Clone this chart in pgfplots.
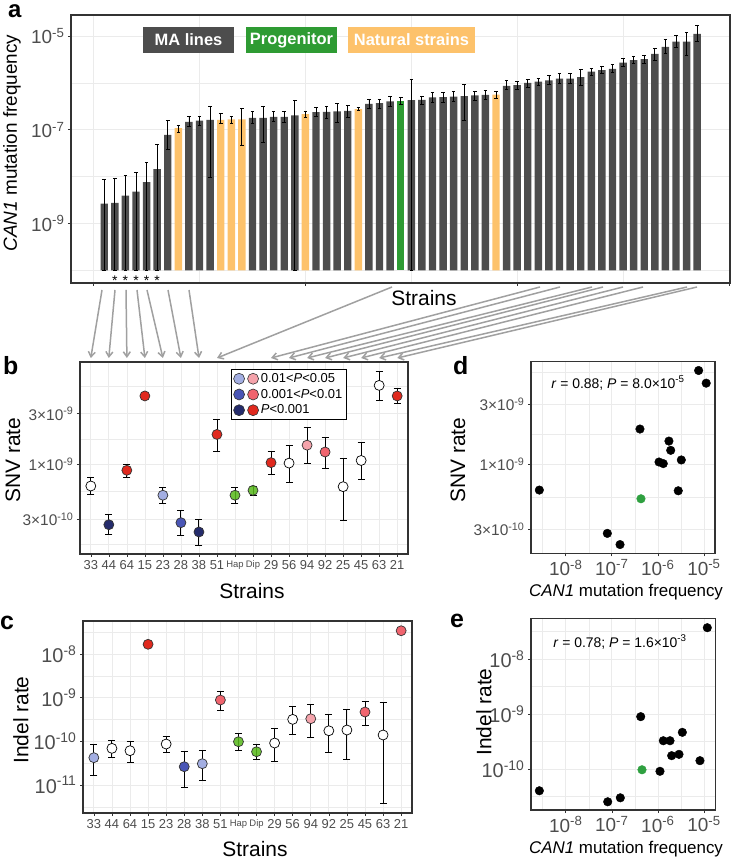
\documentclass[border=0pt]{standalone}
\usepackage{pgfplots}
\pgfplotsset{compat=1.18}
\usepackage{pgfplotstable}
\usepackage{fontspec}
\setmainfont{Liberation Sans}
\usetikzlibrary{arrows.meta}

\definecolor{magray}{HTML}{4D4D4D}
\definecolor{progreen}{HTML}{2E9B33}
\definecolor{natorange}{HTML}{FDC26B}
\definecolor{lblue}{HTML}{A3AEE2}
\definecolor{mblue}{HTML}{4A56B6}
\definecolor{navy}{HTML}{252C6C}
\definecolor{lpink}{HTML}{F5A3AB}
\definecolor{salmon}{HTML}{F0646E}
\definecolor{redd}{HTML}{E0291E}
\definecolor{ptgreen}{HTML}{57B91A}
\definecolor{dgreen}{HTML}{2FA040}
\definecolor{gridc}{HTML}{EBEBEB}
\definecolor{framec}{HTML}{333333}
\definecolor{tickc}{HTML}{4D4D4D}
\definecolor{arrowc}{HTML}{A0A0A0}

\newcommand{\fs}[1]{\fontsize{#1}{#1}\selectfont}
\newcommand{\sx}[1]{\textsuperscript{#1}}

% panel a: CAN1 mutation frequency per strain (bars at 1..57)
\pgfplotstableread{
pos v hi lo
1 2.65e-9 8.9e-9 1e-10
2 2.74e-9 9.0e-9 1e-10
3 3.92e-9 1.08e-8 1e-10
4 4.78e-9 1.25e-8 1e-10
5 7.67e-9 2.05e-8 1e-10
6 1.45e-8 4.79e-8 1e-10
7 7.82e-8 1.61e-7 3.8e-8
9 1.48e-7 1.95e-7 1.18e-7
10 1.56e-7 1.95e-7 1.24e-7
11 1.63e-7 3.19e-7 9.6e-9
15 1.80e-7 2.50e-7 1.34e-7
16 1.80e-7 3.09e-7 5.46e-8
17 1.89e-7 2.46e-7 1.51e-7
18 1.89e-7 2.50e-7 1.43e-7
19 2.02e-7 4.28e-7 1e-10
21 2.38e-7 2.99e-7 1.92e-7
22 2.42e-7 3.14e-7 1.75e-7
23 2.46e-7 3.58e-7 1.43e-7
24 2.54e-7 3.25e-7 1.86e-7
26 3.58e-7 4.51e-7 2.85e-7
27 3.70e-7 4.51e-7 2.90e-7
28 4.02e-7 5.05e-7 3.14e-7
30 4.28e-7 1.16e-6 1e-10
31 4.35e-7 5.22e-7 3.52e-7
32 4.89e-7 6.15e-7 3.83e-7
33 4.97e-7 6.25e-7 3.83e-7
34 5.13e-7 6.56e-7 4.02e-7
35 5.22e-7 9.4e-7 1.58e-7
36 5.40e-7 6.67e-7 4.28e-7
37 5.57e-7 7.0e-7 4.35e-7
39 8.67e-7 1.11e-6 7.13e-7
40 8.95e-7 1.07e-6 7.36e-7
41 1.00e-6 1.20e-6 8.11e-7
42 1.07e-6 1.26e-6 8.95e-7
43 1.13e-6 1.42e-6 9.1e-7
44 1.24e-6 1.56e-6 9.9e-7
45 1.24e-6 1.62e-6 9.9e-7
46 1.33e-6 1.90e-6 8.67e-7
47 1.75e-6 2.06e-6 1.46e-6
48 1.87e-6 2.28e-6 1.56e-6
49 2.00e-6 2.47e-6 1.67e-6
50 2.72e-6 3.31e-6 2.24e-6
51 3.05e-6 3.65e-6 2.55e-6
52 3.21e-6 3.90e-6 2.64e-6
53 4.17e-6 5.51e-6 3.05e-6
54 5.88e-6 8.55e-6 4.31e-6
55 7.64e-6 1.01e-5 5.78e-6
56 7.64e-6 1.21e-5 3.78e-6
57 1.11e-5 1.65e-5 7.64e-6
}\tabMA
\pgfplotstableread{
pos v hi lo
8 1.09e-7 1.26e-7 8.9e-8
12 1.63e-7 2.19e-7 1.34e-7
13 1.66e-7 1.92e-7 1.39e-7
14 1.66e-7 2.90e-7 4.64e-8
20 2.16e-7 2.46e-7 1.86e-7
25 2.76e-7 2.99e-7 2.54e-7
38 5.66e-7 6.67e-7 4.73e-7
}\tabNat
\pgfplotstableread{
pos v hi lo
29 4.15e-7 4.97e-7 3.52e-7
}\tabPro

% panel b: SNV rate
\pgfplotstableread{
pos v hi lo c
1 6.18e-10 7.5e-10 5.12e-10 o
2 2.65e-10 3.33e-10 2.12e-10 nv
3 8.71e-10 1.0e-9 7.5e-10 rd
4 4.43e-9 4.75e-9 4.11e-9 rd
5 5.05e-10 5.96e-10 4.23e-10 lb
6 2.77e-10 3.63e-10 2.09e-10 mb
7 2.26e-10 2.96e-10 1.69e-10 nv
8 1.91e-9 2.67e-9 1.33e-9 rd
9 5.05e-10 5.96e-10 4.2e-10 gr
10 5.62e-10 6.18e-10 5.08e-10 gr
11 1.03e-9 1.31e-9 8.04e-10 rd
12 1.02e-9 1.49e-9 6.61e-10 o
13 1.51e-9 2.23e-9 1.02e-9 pk
14 1.30e-9 1.80e-9 9.16e-10 sm
15 6.09e-10 1.13e-9 2.94e-10 o
16 1.08e-9 1.59e-9 7.1e-10 o
17 5.58e-9 7.64e-9 4.03e-9 o
18 4.43e-9 5.19e-9 3.74e-9 rd
}\tabB

% panel c: indel rate
\pgfplotstableread{
pos v hi lo c
1 4.23e-11 8.55e-11 1.69e-11 lb
2 6.92e-11 1.07e-10 4.31e-11 o
3 6.12e-11 1.0e-10 3.37e-11 o
4 1.67e-8 1.78e-8 1.57e-8 rd
5 8.69e-11 1.28e-10 5.49e-11 o
6 2.63e-11 6.01e-11 8.67e-12 mb
7 3.08e-11 6.34e-11 1.26e-11 lb
8 8.85e-10 1.40e-9 5.03e-10 sm
9 9.82e-11 1.50e-10 6.34e-11 gr
10 5.79e-11 8.39e-11 3.87e-11 gr
11 9.16e-11 1.95e-10 3.42e-11 o
12 3.19e-10 6.34e-10 1.45e-10 o
13 3.30e-10 7.03e-10 1.24e-10 pk
14 1.75e-10 4.07e-10 5.7e-11 o
15 1.82e-10 5.31e-10 3.94e-11 o
16 4.70e-10 8.09e-10 2.33e-10 sm
17 1.40e-10 7.84e-10 3.8e-12 o
18 3.41e-8 3.63e-8 3.2e-8 sm
}\tabC

\pgfplotsset{
  gg/.style={
    scale only axis, anchor=south west,
    axis line style={draw=framec, line width=1.1bp},
    grid=both,
    major grid style={draw=gridc, line width=0.7bp},
    minor grid style={draw=gridc, line width=0.35bp},
    tick align=outside, tick pos=left,
    major tick length=3bp, minor tick length=0pt,
    tick style={draw=framec, line width=0.6bp},
    tick label style={text=tickc},
  },
  ebar/.style={
    error bars/.cd, y dir=both, y explicit,
    error bar style={draw=black, line width=0.9bp},
    error mark options={rotate=90, draw=black, mark size=#1, line width=0.9bp},
  },
  pts/.style={
    scatter, only marks, mark=*, mark size=5bp,
    scatter src=explicit symbolic,
    mark options={line width=0.7bp},
    scatter/classes={
      o={draw=black, fill=white}, lb={draw=framec, fill=lblue},
      mb={draw=framec, fill=mblue}, nv={draw=framec, fill=navy},
      pk={draw=framec, fill=lpink}, sm={draw=framec, fill=salmon},
      rd={draw=framec, fill=redd}, gr={draw=framec, fill=ptgreen, fill opacity=0.85}},
  },
  /pgfplots/table/lg/.style={y expr=ln(\thisrow{v})/ln(10)},
  /pgfplots/table/lgerr/.style={
    y error plus expr=ln(\thisrow{hi})/ln(10)-ln(\thisrow{v})/ln(10),
    y error minus expr=ln(\thisrow{v})/ln(10)-ln(\thisrow{lo})/ln(10)},
}

\begin{document}
\begin{tikzpicture}
\useasboundingbox (0,0) rectangle (732bp,861bp);

% ---------------- a ----------------
\begin{axis}[gg, at={(71bp,578bp)}, width=659bp, height=268bp,
  xmin=-2.14, xmax=60.1, ymin=-0.27, ymax=5.45,
  xtick={0,20,40,60}, minor xtick={10,30,50}, xticklabels={},
  ytick={1,3,5}, minor ytick={0,2,4},
  yticklabels={10\sx{-9},10\sx{-7},10\sx{-5}},
  yticklabel style={font=\fs{19}},
  ybar, bar width=0.7, bar shift=0pt]
\addplot[fill=magray, draw=none, bar shift=0pt, ebar=1.8bp]
  table[x=pos, y expr=ln(\thisrow{v})/ln(10)+10, lgerr] {\tabMA};
\addplot[fill=natorange, draw=none, bar shift=0pt, ebar=1.8bp]
  table[x=pos, y expr=ln(\thisrow{v})/ln(10)+10, lgerr] {\tabNat};
\addplot[fill=progreen, draw=none, bar shift=0pt, ebar=1.8bp]
  table[x=pos, y expr=ln(\thisrow{v})/ln(10)+10, lgerr] {\tabPro};
\node[font=\fs{14}] at (axis cs:2,-0.22) {*};
\node[font=\fs{14}] at (axis cs:3,-0.22) {*};
\node[font=\fs{14}] at (axis cs:4,-0.22) {*};
\node[font=\fs{14}] at (axis cs:5,-0.22) {*};
\node[font=\fs{14}] at (axis cs:6,-0.22) {*};
\end{axis}

\node[fill=magray, text=white, font=\bfseries\fs{16.5}, minimum width=91bp, minimum height=26bp, inner sep=0pt] at (188.5bp,821bp) {MA lines};
\node[fill=progreen, text=white, font=\bfseries\fs{16.5}, minimum width=91bp, minimum height=26bp, inner sep=0pt] at (291.5bp,821bp) {Progenitor};
\node[fill=natorange, text=white, font=\bfseries\fs{16.5}, minimum width=127bp, minimum height=26bp, inner sep=0pt] at (411.5bp,821bp) {Natural strains};

% ---------------- b ----------------
\begin{axis}[gg, at={(80bp,307bp)}, width=328bp, height=192bp,
  xmin=0.4, xmax=18.6, ymin=-9.855, ymax=-8.031,
  xtick={1,...,18},
  xticklabels={33,44,64,15,23,28,38,51,{\fs{9.5}Hap},{\fs{9.5}Dip},29,56,94,92,25,45,63,21},
  xticklabel style={font=\fs{13}},
  ytick={-9.5229,-9,-8.5229}, minor ytick={-9.7615,-9.2615,-8.7615,-8.2615},
  yticklabels={3×10\sx{-10},1×10\sx{-9},3×10\sx{-9}},
  yticklabel style={font=\fs{15.5}},
  legend style={at={(0.46,0.963)}, anchor=north west, draw=black, line width=0.8bp,
    fill=white, font=\fs{13}, inner xsep=2bp, inner ysep=2bp, row sep=1.2bp},
  legend cell align=left]
\addlegendimage{legend image code/.code={
  \draw[fill=lblue, draw=framec, line width=0.6bp] (0bp,0bp) circle (5.5bp);
  \draw[fill=lpink, draw=framec, line width=0.6bp] (14bp,0bp) circle (5.5bp);}}
\addlegendentry{0.01<\textit{P}<0.05}
\addlegendimage{legend image code/.code={
  \draw[fill=mblue, draw=framec, line width=0.6bp] (0bp,0bp) circle (5.5bp);
  \draw[fill=salmon, draw=framec, line width=0.6bp] (14bp,0bp) circle (5.5bp);}}
\addlegendentry{0.001<\textit{P}<0.01}
\addlegendimage{legend image code/.code={
  \draw[fill=navy, draw=framec, line width=0.6bp] (0bp,0bp) circle (5.5bp);
  \draw[fill=redd, draw=framec, line width=0.6bp] (14bp,0bp) circle (5.5bp);}}
\addlegendentry{\textit{P}<0.001}
\addplot[forget plot, draw=none, mark=none, ebar=3.5bp] table[x=pos, lg, lgerr] {\tabB};
\addplot[forget plot, pts] table[x=pos, lg, meta=c] {\tabB};
\end{axis}

% ---------------- c ----------------
\begin{axis}[gg, at={(83bp,48bp)}, width=329bp, height=192bp,
  xmin=0.4, xmax=18.6, ymin=-11.64, ymax=-7.244,
  xtick={1,...,18},
  xticklabels={33,44,64,15,23,28,38,51,{\fs{9.5}Hap},{\fs{9.5}Dip},29,56,94,92,25,45,63,21},
  xticklabel style={font=\fs{13}},
  ytick={-11,-10,-9,-8}, minor ytick={-11.5,-10.5,-9.5,-8.5,-7.5},
  yticklabels={10\sx{-11},10\sx{-10},10\sx{-9},10\sx{-8}},
  yticklabel style={font=\fs{20}}]
\addplot[draw=none, mark=none, ebar=3.5bp] table[x=pos, lg, lgerr] {\tabC};
\addplot[pts] table[x=pos, lg, meta=c] {\tabC};
\end{axis}

% ---------------- d ----------------
\begin{axis}[gg, at={(531bp,307.7bp)}, width=184bp, height=191.6bp,
  xmode=log, ymode=log,
  xmin=1.766e-9, xmax=1.738e-5, ymin=1.932e-10, ymax=6.61e-9,
  xtick={1e-8,1e-7,1e-6,1e-5}, minor xtick={3.1623e-9,3.1623e-8,3.1623e-7,3.1623e-6},
  xticklabels={10\sx{-8},10\sx{-7},10\sx{-6},10\sx{-5}},
  xticklabel style={font=\fs{19}},
  ytick={3e-10,1e-9,3e-9}, minor ytick={5.477e-10,1.732e-9,5.477e-9},
  yticklabels={3×10\sx{-10},1×10\sx{-9},3×10\sx{-9}},
  yticklabel style={font=\fs{15.5}}]
\addplot[only marks, mark=*, mark size=4.3bp, black] coordinates {
  (2.68e-9,6.2e-10) (8.0e-8,2.79e-10) (1.51e-7,2.27e-10) (4.09e-7,1.91e-9)
  (1.06e-6,1.04e-9) (1.31e-6,1.01e-9) (1.74e-6,1.53e-9) (1.9e-6,1.29e-9)
  (3.23e-6,1.08e-9) (2.77e-6,6.12e-10) (7.67e-6,5.62e-9) (1.12e-5,4.45e-9)};
\addplot[only marks, mark=*, mark size=4.3bp, dgreen] coordinates {(4.3e-7,5.28e-10)};
\end{axis}

% ---------------- e ----------------
\begin{axis}[gg, at={(531bp,51bp)}, width=184.7bp, height=191.7bp,
  xmode=log, ymode=log,
  xmin=1.766e-9, xmax=1.795e-5, ymin=1.8e-11, ymax=5.5e-8,
  xtick={1e-8,1e-7,1e-6,1e-5}, minor xtick={3.1623e-9,3.1623e-8,3.1623e-7,3.1623e-6},
  xticklabels={10\sx{-8},10\sx{-7},10\sx{-6},10\sx{-5}},
  xticklabel style={font=\fs{19}},
  ytick={1e-10,1e-9,1e-8}, minor ytick={3.1623e-11,3.1623e-10,3.1623e-9,3.1623e-8},
  yticklabels={10\sx{-10},10\sx{-9},10\sx{-8}},
  yticklabel style={font=\fs{20}}]
\addplot[only marks, mark=*, mark size=4.3bp, black] coordinates {
  (2.68e-9,4.03e-11) (8.15e-8,2.54e-11) (1.53e-7,3.0e-11) (4.24e-7,8.96e-10)
  (1.11e-6,9.1e-11) (1.31e-6,3.27e-10) (1.83e-6,3.27e-10) (1.99e-6,1.75e-10)
  (2.87e-6,1.85e-10) (3.39e-6,4.65e-10) (8.18e-6,1.42e-10) (1.18e-5,3.71e-8)};
\addplot[only marks, mark=*, mark size=4.3bp, dgreen] coordinates {(4.52e-7,9.7e-11)};
\end{axis}

% arrows from panel a to panel b
\begin{scope}[draw=arrowc, line width=1.5bp, -{Straight Barb[length=5bp,width=7bp]}]
\draw (102bp,571bp) -- (90.8bp,503bp);
\draw (115bp,571bp) -- (108.8bp,503bp);
\draw (126bp,571bp) -- (126.9bp,503bp);
\draw (137bp,571bp) -- (144.9bp,503bp);
\draw (147bp,571bp) -- (162.9bp,503bp);
\draw (168bp,571bp) -- (180.9bp,503bp);
\draw (189bp,571bp) -- (199bp,503bp);
\draw (392bp,574bp) -- (217bp,503bp);
\draw (540bp,574bp) -- (271bp,503bp);
\draw (560bp,574bp) -- (289bp,503bp);
\draw (592bp,574bp) -- (307.1bp,503bp);
\draw (603bp,574bp) -- (325.1bp,503bp);
\draw (623bp,574bp) -- (343.2bp,503bp);
\draw (643bp,574bp) -- (361.2bp,503bp);
\draw (687bp,574bp) -- (379.2bp,503bp);
\draw (697bp,574bp) -- (397.3bp,503bp);
\end{scope}

% labels
\begin{scope}[every node/.style={inner sep=0pt}]
\node[font=\bfseries\fs{24}, anchor=base west] at (8bp,843bp) {a};
\node[font=\bfseries\fs{25}, anchor=base west] at (3bp,486bp) {b};
\node[font=\bfseries\fs{25}, anchor=base west] at (0bp,231bp) {c};
\node[font=\bfseries\fs{25}, anchor=base west] at (453bp,486bp) {d};
\node[font=\bfseries\fs{25}, anchor=base west] at (450bp,233bp) {e};
\node[rotate=90, font=\fs{19}] at (12bp,718bp) {\textit{CAN1} mutation frequency};
\node[font=\fs{21}] at (424bp,563bp) {Strains};
\node[rotate=90, font=\fs{21}] at (13bp,401bp) {SNV rate};
\node[font=\fs{21}] at (252bp,270bp) {Strains};
\node[rotate=90, font=\fs{21}] at (21bp,141bp) {Indel rate};
\node[font=\fs{21}] at (255bp,12bp) {Strains};
\node[rotate=90, font=\fs{21}] at (458bp,401bp) {SNV rate};
\node[font=\fs{17}] at (626bp,269bp) {\textit{CAN1} mutation frequency};
\node[rotate=90, font=\fs{21}] at (484bp,149bp) {Indel rate};
\node[font=\fs{17}] at (626bp,12bp) {\textit{CAN1} mutation frequency};
\node[font=\fs{14}] at (618bp,478bp) {\textit{r} = 0.88; \textit{P} = 8.0×10\sx{-5}};
\node[font=\fs{14}] at (620bp,219bp) {\textit{r} = 0.78; \textit{P} = 1.6×10\sx{-3}};
\end{scope}
\end{tikzpicture}
\end{document}
